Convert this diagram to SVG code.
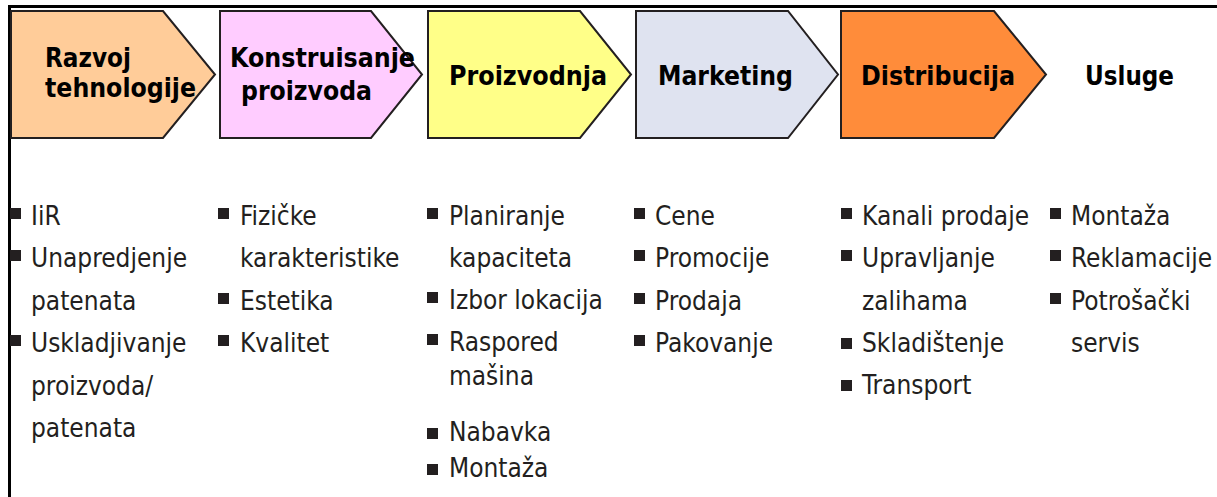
<svg xmlns="http://www.w3.org/2000/svg" width="1217" height="497" viewBox="0 0 1217 497">
<style>
.chev{stroke:#231F20;stroke-width:2;stroke-linejoin:miter}
.h{font-family:"DejaVu Sans Condensed","DejaVu Sans",sans-serif;font-weight:bold;font-size:26px;fill:#000}
.t{font-family:"DejaVu Sans Condensed","DejaVu Sans",sans-serif;font-size:26px;fill:#231F20}
.b{fill:#231F20}
.frame{stroke:#000;stroke-width:3;fill:none}
</style>
<rect x="0" y="0" width="1217" height="497" fill="#fff"/>
<g id="frame">
<line class="frame" x1="8" y1="6.5" x2="1217" y2="6.5"/>
<line class="frame" x1="9.5" y1="5" x2="9.5" y2="497"/>
</g>
<g id="node-razvoj">
<polygon class="chev" fill="#FFCC99" points="11,11 163,11 215,74.5 163,138 11,138"/>
<text class="h" x="45" y="67" textLength="86" lengthAdjust="spacingAndGlyphs">Razvoj</text>
<text class="h" x="45" y="97" textLength="151" lengthAdjust="spacingAndGlyphs">tehnologije</text>
</g>
<g id="node-konstruisanje">
<polygon class="chev" fill="#FFCCFF" points="220,11 371,11 422,74.5 371,138 220,138"/>
<text class="h" x="230" y="67" textLength="185" lengthAdjust="spacingAndGlyphs">Konstruisanje</text>
<text class="h" x="241" y="100" textLength="131" lengthAdjust="spacingAndGlyphs">proizvoda</text>
</g>
<g id="node-proizvodnja">
<polygon class="chev" fill="#FFFF88" points="428,11 580,11 631,74.5 580,138 428,138"/>
<text class="h" x="449" y="85" textLength="158" lengthAdjust="spacingAndGlyphs">Proizvodnja</text>
</g>
<g id="node-marketing">
<polygon class="chev" fill="#DFE3F0" points="636,11 788,11 838,74.5 788,138 636,138"/>
<text class="h" x="658" y="85" textLength="135" lengthAdjust="spacingAndGlyphs">Marketing</text>
</g>
<g id="node-distribucija">
<polygon class="chev" fill="#FF8C3A" points="841,11 994,11 1046,74.5 994,138 841,138"/>
<text class="h" x="861" y="85" textLength="154" lengthAdjust="spacingAndGlyphs">Distribucija</text>
</g>
<g id="node-usluge">
<text class="h" x="1085" y="85" textLength="89" lengthAdjust="spacingAndGlyphs">Usluge</text>
</g>
<g id="connectors"></g>
<g id="list-razvoj">
<rect class="b" x="10" y="208" width="11" height="11"/>
<rect class="b" x="10" y="250" width="11" height="11"/>
<rect class="b" x="10" y="335" width="11" height="11"/>
<text class="t" x="31" y="225">IiR</text>
<text class="t" x="31" y="267">Unapredjenje</text>
<text class="t" x="31" y="310">patenata</text>
<text class="t" x="31" y="352">Uskladjivanje</text>
<text class="t" x="31" y="395">proizvoda/</text>
<text class="t" x="31" y="437">patenata</text>
</g>
<g id="list-konstruisanje">
<rect class="b" x="218" y="208" width="11" height="11"/>
<rect class="b" x="218" y="293" width="11" height="11"/>
<rect class="b" x="218" y="335" width="11" height="11"/>
<text class="t" x="240" y="225">Fizičke</text>
<text class="t" x="240" y="267">karakteristike</text>
<text class="t" x="240" y="310">Estetika</text>
<text class="t" x="240" y="352">Kvalitet</text>
</g>
<g id="list-proizvodnja">
<rect class="b" x="427" y="208" width="11" height="11"/>
<rect class="b" x="427" y="292" width="11" height="11"/>
<rect class="b" x="427" y="334" width="11" height="11"/>
<rect class="b" x="427" y="428" width="11" height="11"/>
<rect class="b" x="427" y="464" width="11" height="11"/>
<text class="t" x="449" y="225">Planiranje</text>
<text class="t" x="449" y="267">kapaciteta</text>
<text class="t" x="449" y="309">Izbor lokacija</text>
<text class="t" x="449" y="351">Raspored</text>
<text class="t" x="449" y="385">mašina</text>
<text class="t" x="449" y="441">Nabavka</text>
<text class="t" x="449" y="477">Montaža</text>
</g>
<g id="list-marketing">
<rect class="b" x="634" y="208" width="11" height="11"/>
<rect class="b" x="634" y="250" width="11" height="11"/>
<rect class="b" x="634" y="293" width="11" height="11"/>
<rect class="b" x="634" y="335" width="11" height="11"/>
<text class="t" x="655" y="225">Cene</text>
<text class="t" x="655" y="267">Promocije</text>
<text class="t" x="655" y="310">Prodaja</text>
<text class="t" x="655" y="352">Pakovanje</text>
</g>
<g id="list-distribucija">
<rect class="b" x="841" y="208" width="11" height="11"/>
<rect class="b" x="841" y="250" width="11" height="11"/>
<rect class="b" x="841" y="338" width="11" height="11"/>
<rect class="b" x="841" y="380" width="11" height="11"/>
<text class="t" x="862" y="225">Kanali prodaje</text>
<text class="t" x="862" y="267">Upravljanje</text>
<text class="t" x="862" y="310">zalihama</text>
<text class="t" x="862" y="352">Skladištenje</text>
<text class="t" x="862" y="394">Transport</text>
</g>
<g id="list-usluge">
<rect class="b" x="1050" y="208" width="11" height="11"/>
<rect class="b" x="1050" y="250" width="11" height="11"/>
<rect class="b" x="1050" y="293" width="11" height="11"/>
<text class="t" x="1071" y="225">Montaža</text>
<text class="t" x="1071" y="267">Reklamacije</text>
<text class="t" x="1071" y="310">Potrošački</text>
<text class="t" x="1071" y="352">servis</text>
</g>
</svg>
